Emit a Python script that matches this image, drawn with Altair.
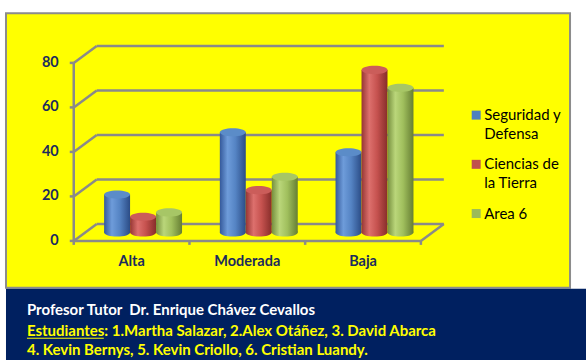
import altair as alt
import pandas as pd

# ---------------- data ----------------
categories = ["Alta", "Moderada", "Baja"]
series_names = ["Seguridad y Defensa", "Ciencias de la Tierra", "Area 6"]
seguridad_defensa = [17, 45, 36]
ciencias_tierra = [7, 19, 73]
area_6 = [9, 25, 65]
y_ticks = [0, 20, 40, 60, 80]
legend_lines = [["Seguridad y", "Defensa"], ["Ciencias de", "la Tierra"], ["Area 6"]]
footer_lines = [
    "Profesor Tutor\u00a0 Dr. Enrique Chávez Cevallos",
    "Estudiantes: 1.Martha Salazar, 2.Alex Otáñez, 3. David Abarca",
    "4. Kevin Bernys, 5. Kevin Criollo, 6. Cristian Luandy.",
]

# ---------------- styles ----------------
FONT = "Lato"
NAVY_TXT = "#1B2B5E"
GRID = "#8A8A8A"
YELLOW = "#FFFF00"
FOOT_BG = "#002060"
base_colors = ["#4F81BD", "#C0504D", "#9BBB59"]
top_colors = ["#5B8CC8", "#CB5D5A", "#A7C666"]
grad_stops = [
    ["#34599A", "#6E9CDA", "#5584C4", "#2B4C86"],
    ["#963633", "#DD706D", "#C6524F", "#872D2A"],
    ["#768F3E", "#BAD67A", "#A0BF5D", "#667E33"],
]


def gradient(cols):
    offs = [0, 0.3, 0.6, 1]
    return alt.Gradient(
        gradient="linear", x1=0, x2=1, y1=0, y2=0,
        stops=[alt.GradientStop(offset=o, color=c) for o, c in zip(offs, cols)],
    )


# ---------------- geometry ----------------
VIEW_W, VIEW_H = 565, 275
PX_CAT = 118.0
PX_UNIT = 178.3 / 80
X0_PX, Y0_PX = 64.0, 228.0
DX, DY = 23, -17          # depth of the back wall
MX, MY = DX / 2, DY / 2   # mid plane where the cylinders stand
BAR_W = 26
BAR_STEP = 26.5 / PX_CAT
ELL = "M-1,0A1,0.32,0,1,0,1,0A1,0.32,0,1,0,-1,0Z"
n_cat = len(categories)

xs = alt.Scale(domain=[-X0_PX / PX_CAT, (VIEW_W - X0_PX) / PX_CAT], nice=False, zero=False)
ys = alt.Scale(domain=[-(VIEW_H - Y0_PX) / PX_UNIT, Y0_PX / PX_UNIT], nice=False, zero=False)


def X(f):
    return alt.X(f, type="quantitative", scale=xs, axis=None)


def Y(f):
    return alt.Y(f, type="quantitative", scale=ys, axis=None)


grid_df = pd.DataFrame({"v": y_ticks})
cat_df = pd.DataFrame({"category": categories, "ci": list(range(n_cat))})
rows = []
for si, vals in enumerate([seguridad_defensa, ciencias_tierra, area_6]):
    for ci, v in enumerate(vals):
        rows.append({"category": categories[ci], "ci": ci, "series": series_names[si], "si": si, "value": v})
bars_df = pd.DataFrame(rows)

rule_style = dict(color=GRID, strokeWidth=2.5)

grid = alt.Chart(grid_df).transform_calculate(xa="0", xb=str(n_cat))
back_wall = grid.mark_rule(xOffset=DX, x2Offset=DX, yOffset=DY, y2Offset=DY, **rule_style).encode(
    x=X("xa"), x2="xb", y=Y("v"), y2="v")
left_diag = grid.mark_rule(x2Offset=DX, y2Offset=DY, **rule_style).encode(
    x=X("xa"), x2="xa", y=Y("v"), y2="v")
y_tick_marks = grid.mark_rule(xOffset=-4, **rule_style).encode(
    x=X("xa"), x2="xa", y=Y("v"), y2="v")
y_axis_line = grid.transform_aggregate(lo="min(v)", hi="max(v)").transform_calculate(
    xa="0").mark_rule(**rule_style).encode(x=X("xa"), y=Y("lo"), y2="hi")
y_labels = grid.mark_text(align="right", baseline="middle", dx=-15, font=FONT, fontSize=14.5,
                          fontWeight="bold", color=NAVY_TXT).encode(x=X("xa"), y=Y("v"), text="v:Q")

floor = alt.Chart(cat_df).transform_aggregate(n="count()").transform_calculate(xa="0", xb="datum.n", y0="0")
floor_front = floor.mark_rule(**rule_style).encode(x=X("xa"), x2="xb", y=Y("y0"), y2="y0")
floor_right = floor.mark_rule(x2Offset=DX, y2Offset=DY, **rule_style).encode(
    x=X("xb"), x2="xb", y=Y("y0"), y2="y0")
cat_ticks = alt.Chart(alt.sequence(0, n_cat + 1, as_="k")).transform_calculate(y0="0").mark_rule(
    y2Offset=4, **rule_style).encode(x=X("k"), x2="k", y=Y("y0"), y2="y0")
cat_labels = alt.Chart(cat_df).transform_calculate(xc="datum.ci + 0.5", y0="0").mark_text(
    baseline="middle", dy=21, font=FONT, fontSize=14.5, fontWeight="bold", color=NAVY_TXT).encode(
    x=X("xc"), y=Y("y0"), text="category:N")

layers = [back_wall, left_diag, floor_front, floor_right, y_axis_line, y_tick_marks, cat_ticks,
          y_labels, cat_labels]

bar_base = alt.Chart(bars_df).transform_calculate(
    xc=f"datum.ci + 0.5 + (datum.si - 1) * {BAR_STEP}", base="0")
for si in range(len(series_names)):
    b = bar_base.transform_filter(f"datum.si == {si}")
    g = gradient(grad_stops[si])
    body = b.mark_bar(size=BAR_W, color=g, xOffset=MX, yOffset=MY, y2Offset=MY).encode(
        x=X("xc"), y=Y("value"), y2="base")
    bottom = b.mark_point(shape=ELL, size=BAR_W ** 2, filled=True, color=g, opacity=1, strokeWidth=0,
                          xOffset=MX, yOffset=MY).encode(x=X("xc"), y=Y("base"))
    top = b.mark_point(shape=ELL, size=BAR_W ** 2, filled=True, opacity=1, strokeWidth=0,
                       xOffset=MX, yOffset=MY).encode(
        x=X("xc"), y=Y("value"),
        color=alt.Color("series:N", scale=alt.Scale(domain=series_names, range=top_colors), legend=None))
    layers += [body, bottom, top]

# legend (drawn by hand, first line aligned with the swatch)
LEG_SQ_X, LEG_TX_X, LEG_Y0, LEG_STEP, LEG_LH = 471, 479, 102, 49.3, 18.8
one = pd.DataFrame({"k": [0]})
for i, lines in enumerate(legend_lines):
    yy = LEG_Y0 + i * LEG_STEP
    layers.append(alt.Chart(one).mark_square(size=81, color=base_colors[i], opacity=1).encode(
        x=alt.value(LEG_SQ_X), y=alt.value(yy)))
    for j, line in enumerate(lines):
        layers.append(alt.Chart(pd.DataFrame({"t": [line]})).mark_text(
            align="left", baseline="middle", font=FONT, fontSize=15, color="black").encode(
            x=alt.value(LEG_TX_X), y=alt.value(yy + j * LEG_LH), text="t:N"))

top_panel = alt.layer(*layers).properties(
    width=VIEW_W, height=VIEW_H,
    view=alt.ViewBackground(fill=YELLOW, stroke="#8C8C8C", strokeWidth=2))

# footer
foot_layers = []
FOOT_X, FOOT_Y = [21, 21, 21], [21.5, 42, 61.5]
foot_cols = ["white", YELLOW, YELLOW]
for i, line in enumerate(footer_lines):
    foot_layers.append(alt.Chart(pd.DataFrame({"t": [line]})).mark_text(
        align="left", baseline="middle", font=FONT, fontSize=15, fontWeight="bold",
        color=foot_cols[i]).encode(x=alt.value(FOOT_X[i]), y=alt.value(FOOT_Y[i]), text="t:N"))
foot_layers.append(alt.Chart(one).mark_rule(color=YELLOW, strokeWidth=1).encode(
    x=alt.value(21), x2=alt.value(98), y=alt.value(49.5), y2=alt.value(49.5)))
bottom_panel = alt.layer(*foot_layers).properties(
    width=581, height=72, view=alt.ViewBackground(fill=FOOT_BG, stroke=FOOT_BG, strokeWidth=0))

chart = alt.vconcat(top_panel, bottom_panel, spacing=1, bounds="flush").properties(
    padding={"left": 5, "top": 12, "right": 0, "bottom": 0}, background="white")

chart.save("out.html", embed_options={"renderer": "svg", "actions": False})
